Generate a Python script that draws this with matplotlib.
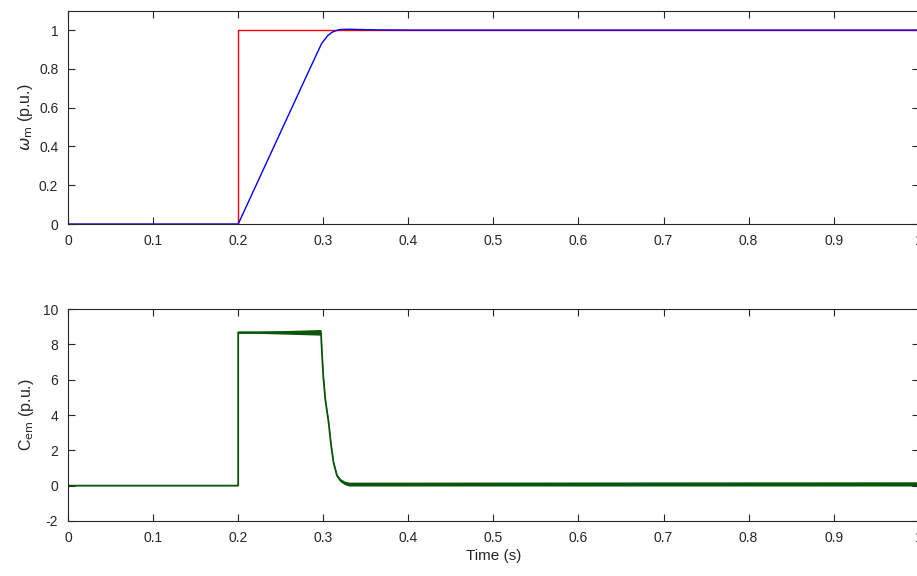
import matplotlib
matplotlib.use('Agg')
import matplotlib.pyplot as plt

plt.rcParams['font.family'] = ['Liberation Sans', 'DejaVu Sans']
plt.rcParams['mathtext.fontset'] = 'dejavusans'
plt.rcParams['axes.unicode_minus'] = False

# speed reference / measured speed (p.u.)
t_ref = [0.0, 0.2, 0.2, 1.0]
w_ref = [0.0, 0.0, 1.0, 1.0]

t_w = [0.0, 0.2, 0.2808, 0.298, 0.305, 0.31, 0.315, 0.32, 0.33, 0.36, 0.4, 1.0]
w_m = [0.0, 0.0, 0.768, 0.93, 0.97, 0.988, 0.997, 1.003, 1.004, 1.001, 1.0, 1.0]

# electromagnetic torque (p.u.): ripple band read as upper / lower edge
t_cem = [0.0, 0.2, 0.2, 0.225, 0.2973, 0.2985, 0.300, 0.3024, 0.3045, 0.3063,
         0.309, 0.312, 0.316, 0.320, 0.325, 0.330, 0.34, 1.0]
cem_hi = [0.0, 0.0, 8.74, 8.74, 8.84, 7.6, 6.3, 4.95, 4.25, 3.65,
          2.45, 1.4, 0.66, 0.4, 0.26, 0.2, 0.2, 0.22]
cem_lo = [0.0, 0.0, 8.62, 8.62, 8.52, 7.4, 6.1, 4.8, 4.1, 3.5,
          2.3, 1.25, 0.5, 0.22, 0.06, -0.02, -0.02, -0.02]

x_ticks = [0, 0.1, 0.2, 0.3, 0.4, 0.5, 0.6, 0.7, 0.8, 0.9, 1]
x_labels = ['0', '0.1', '0.2', '0.3', '0.4', '0.5', '0.6', '0.7', '0.8', '0.9', '1']

fig = plt.figure(figsize=(9.17, 5.76), dpi=100)
ax1 = fig.add_axes([0.0742, 0.611, 0.9277, 0.3705])
ax2 = fig.add_axes([0.0742, 0.0955, 0.9277, 0.368])

axc = '#262626'
green = '#0a550a'


def style(ax):
    for s in ax.spines.values():
        s.set_color(axc)
        s.set_linewidth(0.8)
    ax.tick_params(direction='in', top=True, right=True, length=5, width=0.8,
                   colors=axc, labelsize=10, pad=7)
    ax.set_xlim(0, 1)
    ax.set_xticks(x_ticks)
    ax.set_xticklabels(x_labels)


ax1.plot(t_ref, w_ref, color='#ff0000', lw=1.0)
ax1.plot(t_w, w_m, color='#0000ff', lw=1.0)
ax1.set_ylim(0, 1.1)
ax1.set_yticks([0, 0.2, 0.4, 0.6, 0.8, 1])
ax1.set_yticklabels(['0', '0.2', '0.4', '0.6', '0.8', '1'])
ax1.set_ylabel(r'$\omega_{\rm m}$ (p.u.)', fontsize=11.5, color=axc, labelpad=3)
style(ax1)

mid = [(a + b) / 2 for a, b in zip(cem_hi, cem_lo)]
ax2.fill_between(t_cem, cem_lo, cem_hi, color=green, lw=0)
ax2.plot(t_cem, mid, color=green, lw=1.3)
ax2.set_ylim(-2, 10)
ax2.set_yticks([-2, 0, 2, 4, 6, 8, 10])
ax2.set_ylabel(r'C$_{\rm em}$ (p.u.)', fontsize=11.5, color=axc, labelpad=5)
ax2.set_xlabel('Time (s)', fontsize=11, color=axc, labelpad=3)
style(ax2)

fig.savefig('out.png', dpi=100)
